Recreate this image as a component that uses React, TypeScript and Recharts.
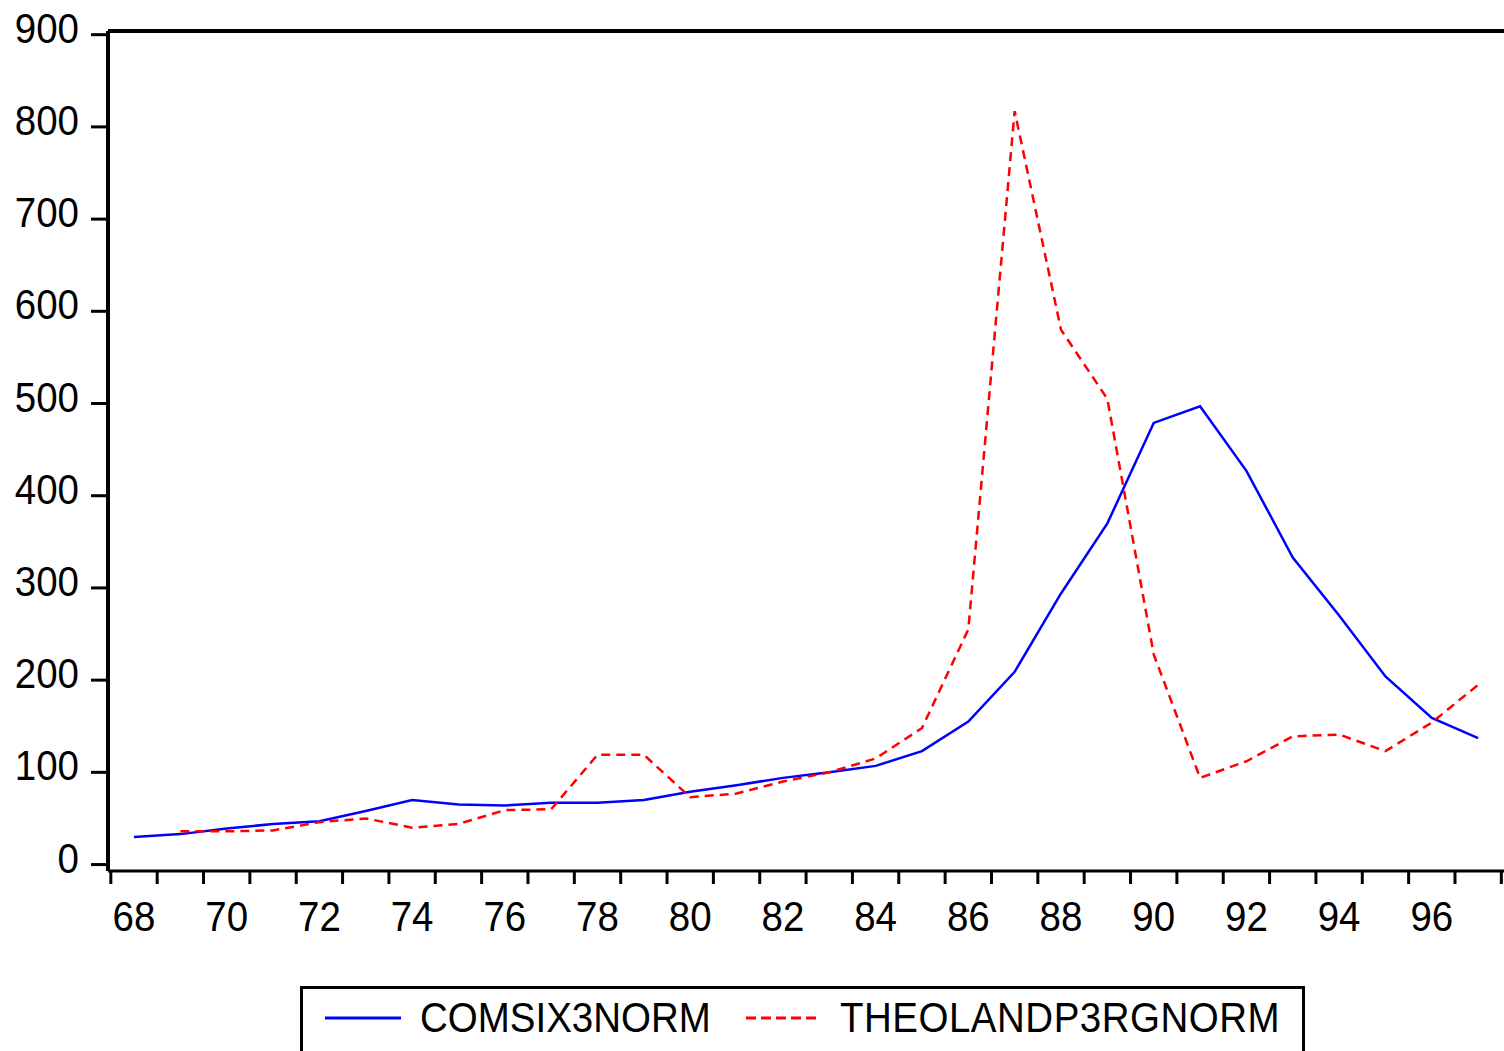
import { LineChart, Line, XAxis, YAxis, Legend, ReferenceLine } from 'recharts'

// annual observations, 1968-1997
const years = [68, 69, 70, 71, 72, 73, 74, 75, 76, 77, 78, 79, 80, 81, 82, 83, 84, 85, 86, 87, 88, 89, 90, 91, 92, 93, 94, 95, 96, 97]
const comsix3norm = [30, 33, 39, 44, 47, 58, 70, 65, 64, 67, 67, 70, 79, 86, 94, 100, 107, 123, 155, 209, 294, 370, 479, 497, 427, 333, 270, 204, 159, 137]
const theolandp3rgnorm = [null, 36, 36, 37, 46, 50, 40, 44, 59, 60, 119, 119, 73, 77, 90, 100, 115, 148, 255, 817, 580, 505, 228, 94, 112, 139, 141, 123, 154, 195]

const yTicks = [0, 100, 200, 300, 400, 500, 600, 700, 800, 900]
// tick marks sit on the year boundaries, labels on every other year
const xTickMarks = [67.5, 68.5, 69.5, 70.5, 71.5, 72.5, 73.5, 74.5, 75.5, 76.5, 77.5, 78.5, 79.5, 80.5, 81.5, 82.5, 83.5, 84.5, 85.5, 86.5, 87.5, 88.5, 89.5, 90.5, 91.5, 92.5, 93.5, 94.5, 95.5, 96.5, 97.5]
const xLabels = [68, 70, 72, 74, 76, 78, 80, 82, 84, 86, 88, 90, 92, 94, 96]

const data = years.map((year, i) => ({
  year,
  com: comsix3norm[i],
  theo: theolandp3rgnorm[i],
}))

const CHART_W = 1530
const CHART_H = 1051
const MARGIN = { top: 31, right: 18, bottom: 0, left: 0 }
const YAXIS_W = 108
const XAXIS_H = 180
const X_DOMAIN: [number, number] = [67.439, 97.73]
const Y_DOMAIN: [number, number] = [-7, 904]
const PX_PER_YEAR = (CHART_W - MARGIN.left - MARGIN.right - YAXIS_W) / (X_DOMAIN[1] - X_DOMAIN[0])

const FONT = '"Liberation Sans", Arial, Helvetica, sans-serif'
const FONT_SIZE = 38.5
const STRETCH = 'scale(1, 1.1)'

function YTick(props: any) {
  const { x, y, payload } = props
  return (
    <text
      transform={`translate(${x}, ${y + 8}) ${STRETCH}`}
      textAnchor="end"
      fontFamily={FONT}
      fontSize={FONT_SIZE}
      fill="#000"
    >
      {payload.value}
    </text>
  )
}

function XTick(props: any) {
  const { x, y, payload } = props
  const year = payload.value + 0.5
  if (!xLabels.includes(year)) return <g />
  return (
    <text
      transform={`translate(${x + PX_PER_YEAR / 2}, ${y + 47}) ${STRETCH}`}
      textAnchor="middle"
      fontFamily={FONT}
      fontSize={FONT_SIZE}
      fill="#000"
    >
      {year}
    </text>
  )
}

function LegendBox() {
  return (
    <svg width={1010} height={70} style={{ display: 'block' }}>
      <rect x={1.5} y={1.5} width={1002} height={120} fill="#fff" stroke="#000" strokeWidth={3} />
      <line x1={25} x2={101} y1={32} y2={32} stroke="#0000ff" strokeWidth={3} />
      <text transform={`translate(120, 45.5) ${STRETCH}`} fontFamily={FONT} fontSize={FONT_SIZE} fill="#000">
        COMSIX3NORM
      </text>
      <line x1={446} x2={521} y1={32} y2={32} stroke="#ff0000" strokeWidth={3} strokeDasharray="10 5" />
      <text
        transform={`translate(540, 45.5) ${STRETCH}`}
        fontFamily={FONT}
        fontSize={FONT_SIZE}
        letterSpacing={0.5}
        fill="#000"
      >
        THEOLANDP3RGNORM
      </text>
    </svg>
  )
}

export default function App() {
  return (
    <div style={{ width: 1504, height: 1051, overflow: 'hidden', background: '#fff' }}>
      <style>{'body{margin:0;overflow:hidden;background:#fff}'}</style>
      <LineChart width={CHART_W} height={CHART_H} data={data} margin={MARGIN}>
        <XAxis
          dataKey="year"
          type="number"
          domain={X_DOMAIN}
          allowDataOverflow
          ticks={xTickMarks}
          interval={0}
          height={XAXIS_H}
          tickSize={13}
          tickMargin={0}
          axisLine={{ stroke: '#000', strokeWidth: 3 }}
          tickLine={{ stroke: '#000', strokeWidth: 3 }}
          tick={<XTick />}
        />
        <YAxis
          type="number"
          domain={Y_DOMAIN}
          allowDataOverflow
          ticks={yTicks}
          interval={0}
          width={YAXIS_W}
          tickSize={17}
          tickMargin={12}
          axisLine={{ stroke: '#000', strokeWidth: 4 }}
          tickLine={{ stroke: '#000', strokeWidth: 3 }}
          tick={<YTick />}
        />
        <ReferenceLine y={Y_DOMAIN[1]} stroke="#000" strokeWidth={4} />
        <Line
          type="linear"
          dataKey="com"
          name="COMSIX3NORM"
          stroke="#0000ff"
          strokeWidth={2.5}
          dot={false}
          isAnimationActive={false}
        />
        <Line
          type="linear"
          dataKey="theo"
          name="THEOLANDP3RGNORM"
          stroke="#ff0000"
          strokeWidth={2.5}
          strokeDasharray="9 6"
          dot={false}
          isAnimationActive={false}
        />
        <Legend
          layout="horizontal"
          verticalAlign="middle"
          align="center"
          wrapperStyle={{ left: 300, top: 986, width: 1010, height: 70 }}
          content={() => <LegendBox />}
        />
      </LineChart>
    </div>
  )
}
